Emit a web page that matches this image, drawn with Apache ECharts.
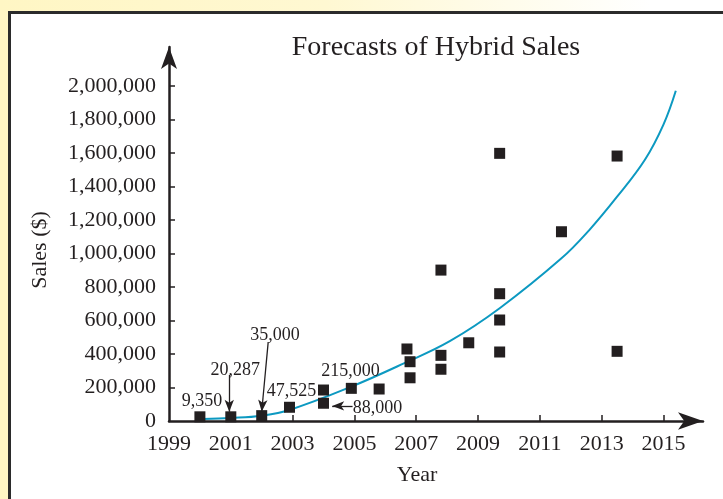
<!DOCTYPE html>
<html>
<head>
<meta charset="utf-8">
<script src="https://cdn.jsdelivr.net/npm/echarts@6/dist/echarts.min.js"></script>
<style>
  html, body { margin: 0; padding: 0; }
  #wrap {
    position: relative;
    width: 723px;
    height: 499px;
    overflow: hidden;
    background: linear-gradient(90deg, #fff6c4 0%, #fff8d2 45%, #ffffff 90%);
  }
  #frame {
    position: absolute;
    left: 8px;
    top: 11px;
    width: 730px;
    height: 500px;
    background: #fff;
    border-left: 3px solid #2b2b2b;
    border-top: 3px solid #2b2b2b;
  }
  #chart { position: absolute; left: 0; top: 0; width: 723px; height: 499px; }
</style>
</head>
<body>
<div id="wrap">
  <div id="frame"></div>
  <div id="chart"></div>
</div>
<script>
// Scatter data (year, sales)
const pointYears = [2000.0, 2001.0, 2002.0, 2002.9, 2004.0, 2004.0, 2004.9, 2005.8,
  2006.7, 2006.8, 2006.8, 2007.8, 2007.8, 2007.8, 2008.7,
  2009.7, 2009.7, 2009.7, 2009.7, 2011.7, 2013.5, 2013.5]
const pointSales = [25000, 25000, 32000, 82000, 185000, 106000, 195000, 191000,
  430000, 354000, 258000, 901000, 392000, 309000, 467000,
  1598000, 760000, 603000, 412000, 1130000, 1582000, 416000]

const curveYears = [2000.1, 2001.0, 2002.0, 2002.9, 2004.9, 2006.6, 2008.1,
  2009.7, 2011.7, 2012.6, 2013.5, 2014.4, 2015.0, 2015.4]
const curveSales = [12000, 18000, 32000, 66000, 205000, 344000, 478000,
  673000, 971000, 1140000, 1339000, 1560000, 1770000, 1972000]

// Axis labels
const xLabelYears = [1999, 2001, 2003, 2005, 2007, 2009, 2011, 2013, 2015]
const xTickYears = [2001, 2003, 2005, 2007, 2009, 2011, 2013, 2015]
const yLabelValues = [0, 200000, 400000, 600000, 800000, 1000000, 1200000,
  1400000, 1600000, 1800000, 2000000]

// Callout labels and their arrows
const calloutText = ['9,350', '20,287', '35,000', '47,525', '215,000', '88,000']
const calloutAt = [[2000.07, 115000], [2001.14, 304000], [2002.43, 513000],
  [2002.96, 175000], [2004.87, 294000], [2005.75, 79000]]
const calloutArrows = [
  [[2000.95, 275000], [2000.95, 55000]],
  [[2002.21, 472000], [2002.0, 55000]],
  [[2004.94, 90000], [2004.28, 90000]]
]

const ink = '#231f20'
const serif = 'Liberation Serif'

const chart = echarts.init(document.getElementById('chart'))

const pairs = (xs, ys) => xs.map((x, i) => [x, ys[i]])

chart.setOption({
  animation: false,
  backgroundColor: 'transparent',
  textStyle: { fontFamily: serif, color: ink },
  title: {
    text: 'Forecasts of Hybrid Sales',
    left: 431,
    textAlign: 'center',
    top: 29,
    textStyle: { fontFamily: serif, fontSize: 28, fontWeight: 'normal', color: ink }
  },
  grid: { left: 169, right: 20, top: 47, bottom: 78 },
  xAxis: {
    type: 'value',
    min: 1999,
    max: 2016.28,
    splitLine: { show: false },
    axisLine: {
      lineStyle: { color: ink, width: 2.5 },
      symbol: ['none', 'arrow'],
      symbolSize: [13, 25]
    },
    axisTick: {
      inside: true,
      length: 6,
      lineStyle: { color: ink, width: 1.5 },
      customValues: xTickYears
    },
    axisLabel: {
      customValues: xLabelYears,
      margin: 12,
      fontFamily: serif,
      fontSize: 22,
      color: ink,
      formatter: v => String(v)
    }
  },
  yAxis: {
    type: 'value',
    min: 0,
    max: 2233000,
    splitLine: { show: false },
    axisLine: {
      lineStyle: { color: ink, width: 2.5 },
      symbol: ['none', 'arrow'],
      symbolSize: [12, 22]
    },
    axisTick: {
      inside: true,
      length: 6,
      lineStyle: { color: ink, width: 1.5 },
      customValues: yLabelValues.slice(1)
    },
    axisLabel: {
      customValues: yLabelValues,
      margin: 13,
      fontFamily: serif,
      fontSize: 22,
      color: ink,
      formatter: v => v.toLocaleString('en-US')
    }
  },
  graphic: [
    {
      type: 'text',
      x: 40,
      y: 250,
      rotation: Math.PI / 2,
      style: {
        text: 'Sales ($)',
        fill: ink,
        font: '22px "Liberation Serif"',
        align: 'center',
        verticalAlign: 'middle'
      }
    },
    {
      type: 'text',
      x: 417,
      y: 475,
      style: {
        text: 'Year',
        fill: ink,
        font: '22px "Liberation Serif"',
        align: 'center',
        verticalAlign: 'middle'
      }
    }
  ],
  series: [
    {
      name: 'Forecast',
      type: 'line',
      data: pairs(curveYears, curveSales),
      smooth: 0.4,
      showSymbol: false,
      lineStyle: { color: '#0c99c1', width: 2 },
      z: 2
    },
    {
      name: 'Sales',
      type: 'scatter',
      data: pairs(pointYears, pointSales),
      symbol: 'rect',
      symbolSize: 11,
      itemStyle: { color: ink, opacity: 1, borderWidth: 0 },
      z: 3,
      markPoint: {
        symbol: 'circle',
        symbolSize: 0,
        silent: true,
        label: {
          show: true,
          position: 'inside',
          fontFamily: serif,
          fontSize: 18,
          color: ink,
          formatter: p => p.name
        },
        data: calloutText.map((t, i) => ({ name: t, coord: calloutAt[i] }))
      },
      markLine: {
        silent: true,
        symbol: ['none', 'arrow'],
        symbolSize: [7, 12],
        label: { show: false },
        lineStyle: { color: ink, width: 1.3, type: 'solid' },
        data: calloutArrows.map(a => [{ coord: a[0] }, { coord: a[1] }])
      }
    }
  ]
})
</script>
</body>
</html>
